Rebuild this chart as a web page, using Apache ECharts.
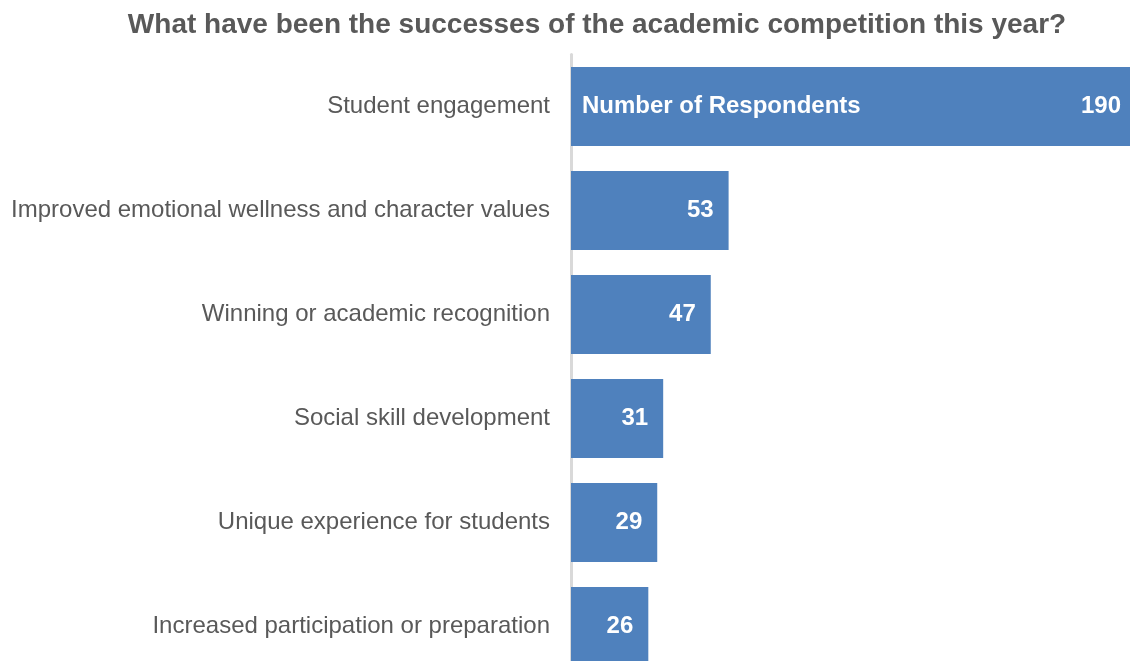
<!DOCTYPE html>
<html>
<head>
<meta charset="utf-8">
<script src="https://cdn.jsdelivr.net/npm/echarts@6/dist/echarts.min.js"></script>
<style>
  html, body { margin: 0; padding: 0; background: #ffffff; }
  #chart { width: 1130px; height: 661px; }
</style>
</head>
<body>
<div id="chart"></div>
<script>
// Survey responses, ordered top to bottom
const categories = [
  'Student engagement',
  'Improved emotional wellness and character values',
  'Winning or academic recognition',
  'Social skill development',
  'Unique experience for students',
  'Increased participation or preparation'
];
const respondents = [190, 53, 47, 31, 29, 26];
const seriesName = 'Number of Respondents';
const titleText = 'What have been the successes of the academic competition this year?';

const FONT = '"Liberation Sans", Arial, sans-serif';
const GRAY = '#595959';
const BLUE = '#4f81bd';

const chart = echarts.init(document.getElementById('chart'), null, { renderer: 'canvas' });

// Series-name tag shown inside the first bar only
const nameTag = respondents.map((v, i) => (i === 0 ? v : '-'));

chart.setOption({
  animation: false,
  backgroundColor: '#ffffff',
  title: {
    text: titleText,
    left: 592,
    textAlign: 'center',
    top: 6,
    textStyle: { fontFamily: FONT, fontSize: 28, fontWeight: 'bold', color: GRAY }
  },
  grid: {
    left: 571, top: 54.5, width: 565, height: 624,
    containLabel: false,
    outerBoundsMode: 'none'
  },
  xAxis: {
    type: 'value',
    min: 0,
    max: 190,
    show: false
  },
  yAxis: {
    type: 'category',
    data: categories,
    inverse: true,
    axisLine: { show: true, lineStyle: { color: '#d9d9d9', width: 3 } },
    axisTick: { show: false },
    axisLabel: { fontFamily: FONT, fontSize: 24, color: GRAY, margin: 21 }
  },
  series: [
    {
      name: seriesName,
      type: 'bar',
      data: respondents,
      barCategoryGap: '24%',
      itemStyle: { color: BLUE },
      label: {
        show: true,
        position: 'insideRight',
        distance: 15,
        fontFamily: FONT,
        fontSize: 24,
        fontWeight: 'bold',
        color: '#ffffff'
      }
    },
    {
      name: seriesName,
      type: 'bar',
      data: nameTag,
      barGap: '-100%',
      barCategoryGap: '24%',
      itemStyle: { color: 'rgba(0,0,0,0)' },
      silent: true,
      z: 3,
      label: {
        show: true,
        position: 'insideLeft',
        distance: 11,
        formatter: '{a}',
        fontFamily: FONT,
        fontSize: 24,
        fontWeight: 'bold',
        color: '#ffffff'
      }
    }
  ]
});
</script>
</body>
</html>
